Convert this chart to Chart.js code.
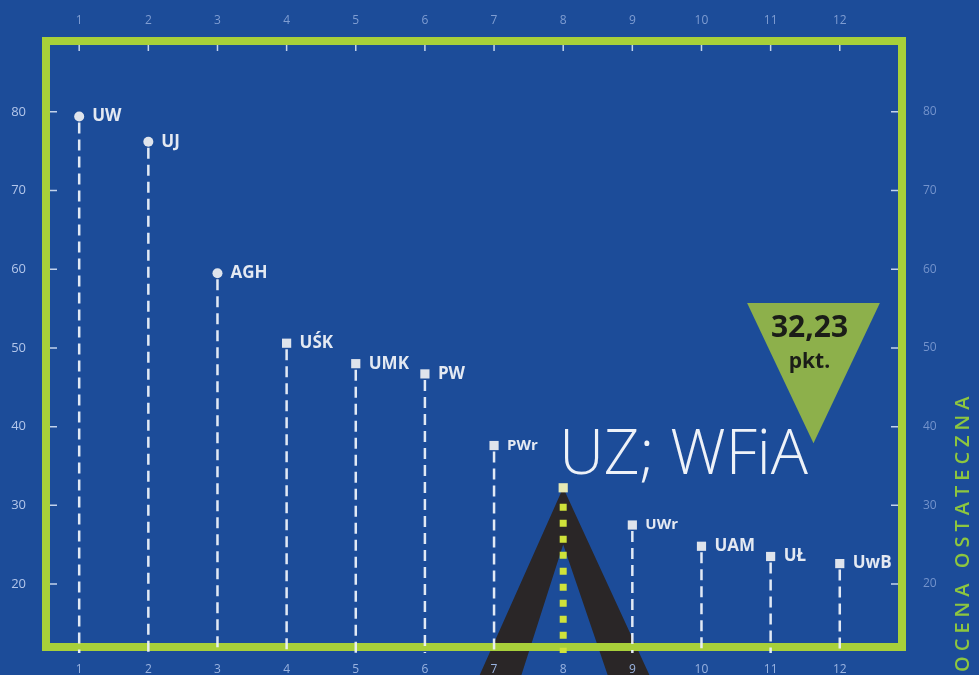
<!DOCTYPE html>
<html>
<head>
<meta charset="utf-8">
<script src="https://cdn.jsdelivr.net/npm/chart.js@4.4.1/dist/chart.umd.min.js"></script>
<style>
  html, body { margin: 0; padding: 0; background: #1c4c99; overflow: hidden; }
</style>
</head>
<body>
<canvas id="ocenaChart" width="979" height="675"></canvas>
<script>
// dane
const pozycje = [1, 2, 3, 4, 5, 6, 7, 8, 9, 10, 11, 12]
const uczelnie = ["UW", "UJ", "AGH", "UŚK", "UMK", "PW", "PWr", "UZ", "UWr", "UAM", "UŁ", "UwB"]
const oceny = [79.4, 76.2, 59.5, 50.6, 48.0, 46.7, 37.6, 32.23, 27.5, 24.8, 23.5, 22.6]
const ksztalty = ["circle", "circle", "circle", "rect", "rect", "rect", "rect", "rect", "rect", "rect", "rect", "rect"]
const yTicks = [20, 30, 40, 50, 60, 70, 80]
const wyroznione = 7
const podpis = "UZ; WFiA"
const tytulOsi = "OCENA OSTATECZNA"

const BG = "#1c4c99"
const FRAME = "#a8d03a"
const WEDGE = "#2a2627"
const FONT = "'Open Sans', 'Noto Sans', sans-serif"

const decor = {
    id: "decor",
    beforeDraw(chart) {
        const { ctx, width, height, scales: { x, y } } = chart
        ctx.save()
        ctx.fillStyle = BG
        ctx.fillRect(0, 0, width, height)
        // ciemny klin pod wyróżnionym punktem
        const p = pozycje[wyroznione], v = oceny[wyroznione]
        const pts = [[p, v], [p - 1.23, 8], [p - 0.62, 8], [p, v - 7.2], [p + 0.66, 8], [p + 1.27, 8]]
        ctx.fillStyle = WEDGE
        ctx.beginPath()
        pts.forEach(([a, b], i) => {
            const px = x.getPixelForValue(a), py = y.getPixelForValue(b)
            i ? ctx.lineTo(px, py) : ctx.moveTo(px, py)
        })
        ctx.closePath()
        ctx.fill()
        ctx.restore()
    },
    beforeDatasetsDraw(chart) {
        const { ctx, chartArea: a, scales: { x, y } } = chart
        ctx.save()
        // ramka
        ctx.strokeStyle = FRAME
        ctx.lineWidth = 8
        ctx.strokeRect(a.left, a.top, a.right - a.left, a.bottom - a.top)
        // małe kreski wewnątrz ramki
        ctx.strokeStyle = "rgba(225,235,250,0.85)"
        ctx.lineWidth = 1.5
        ctx.beginPath()
        yTicks.forEach(t => {
            const py = y.getPixelForValue(t)
            ctx.moveTo(a.left + 4, py); ctx.lineTo(a.left + 11, py)
            ctx.moveTo(a.right - 11, py); ctx.lineTo(a.right - 4, py)
        })
        pozycje.forEach(p => {
            const px = x.getPixelForValue(p)
            ctx.moveTo(px, a.top + 4); ctx.lineTo(px, a.top + 10)
        })
        ctx.stroke()
        // linie opadające
        const meta = chart.getDatasetMeta(0)
        meta.data.forEach((pt, i) => {
            ctx.beginPath()
            if (i === wyroznione) {
                ctx.strokeStyle = "#cfe23a"
                ctx.lineWidth = 7
                ctx.setLineDash([7, 9])
                ctx.moveTo(pt.x, pt.y + 10)
            } else {
                ctx.strokeStyle = "rgba(236,241,250,0.95)"
                ctx.lineWidth = 2.5
                ctx.setLineDash([11, 6])
                ctx.lineDashOffset = -6
                ctx.moveTo(pt.x, pt.y)
            }
            ctx.lineTo(pt.x, a.bottom + 6)
            ctx.stroke()
        })
        ctx.restore()
    },
    afterDatasetsDraw(chart) {
        const { ctx, width, height, chartArea: a, scales: { x, y } } = chart
        const meta = chart.getDatasetMeta(0)
        ctx.save()
        ctx.fillStyle = "#e4e9f2"
        ctx.textBaseline = "middle"
        meta.data.forEach((pt, i) => {
            if (i === wyroznione) return
            const small = uczelnie[i].endsWith("r")
            ctx.font = `bold ${small ? 15 : 17}px ${FONT}`
            ctx.fillText(uczelnie[i], pt.x + 13, pt.y)
        })
        // duży podpis wyróżnionej uczelni
        const hp = meta.data[wyroznione]
        ctx.fillStyle = "#eef2f8"
        ctx.textBaseline = "alphabetic"
        ctx.font = `300 62px ${FONT}`
        ctx.fillText(podpis, hp.x - 4, hp.y - 14)
        // trójkąt z wynikiem
        const cx = x.getPixelForValue(11.62)
        const half = x.getPixelForValue(12.58) - cx
        const tTop = y.getPixelForValue(55.7), tApex = y.getPixelForValue(37.9)
        ctx.fillStyle = "#8db04b"
        ctx.beginPath()
        ctx.moveTo(cx - half, tTop)
        ctx.lineTo(cx + half, tTop)
        ctx.lineTo(cx, tApex)
        ctx.closePath()
        ctx.fill()
        ctx.fillStyle = "#1b1d18"
        ctx.textAlign = "center"
        ctx.font = `bold 30px ${FONT}`
        ctx.fillText(oceny[wyroznione].toFixed(2).replace(".", ","), cx - 4, tTop + 34)
        ctx.font = `bold 21px ${FONT}`
        ctx.fillText("pkt.", cx - 4, tTop + 65)
        // tytuł osi
        ctx.translate(a.right + 61, height - 3)
        ctx.rotate(-Math.PI / 2)
        ctx.textAlign = "left"
        ctx.textBaseline = "middle"
        ctx.fillStyle = "#8dc63f"
        ctx.font = `600 20px ${FONT}`
        ctx.letterSpacing = "5px"
        ctx.fillText(tytulOsi, 0, 0)
        ctx.restore()
    }
}

const xAxis = (position, size, padding, color) => ({
    type: "linear", position, min: 0.52, max: 12.9,
    grid: { display: false }, border: { display: false },
    afterBuildTicks: s => { s.ticks = pozycje.map(v => ({ value: v })) },
    afterFit: s => { s.height = size },
    ticks: { color, padding, maxRotation: 0, autoSkip: false, font: { family: FONT, size: 12 } }
})

const yAxis = (position, size, padding, color, fontSize) => ({
    type: "linear", position, min: 12, max: 89,
    grid: { display: false }, border: { display: false },
    afterBuildTicks: s => { s.ticks = yTicks.map(v => ({ value: v })) },
    afterFit: s => { s.width = size },
    ticks: { color, padding, font: { family: FONT, size: fontSize } }
})

new Chart(document.getElementById("ocenaChart"), {
    type: "scatter",
    data: {
        datasets: [{
            data: pozycje.map((p, i) => ({ x: p, y: oceny[i] })),
            pointStyle: ksztalty,
            pointRadius: ksztalty.map(k => k === "circle" ? 5 : 6.5),
            pointHoverRadius: ksztalty.map(k => k === "circle" ? 5 : 6.5),
            pointBackgroundColor: pozycje.map((p, i) => i === wyroznione ? "#e6e9b4" : "#dfe4ec"),
            pointBorderWidth: 0
        }]
    },
    options: {
        responsive: false,
        animation: false,
        devicePixelRatio: 1,
        layout: { padding: 0 },
        plugins: { legend: { display: false }, tooltip: { enabled: false } },
        scales: {
            x: xAxis("bottom", 28, 7, "#9ab3e0"),
            xTop: xAxis("top", 41, 5, "#7f9dd2"),
            y: yAxis("left", 46, 12, "#b3c6ea", 13),
            yRight: yAxis("right", 77, 13, "#7393cc", 12)
        }
    },
    plugins: [decor]
})
</script>
</body>
</html>
